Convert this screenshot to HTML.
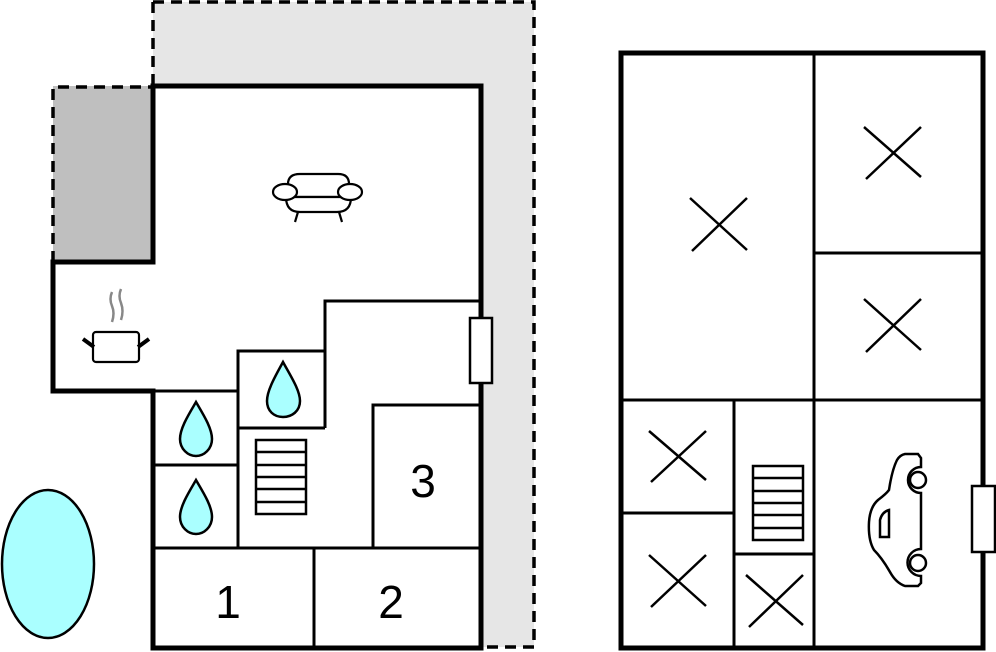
<!DOCTYPE html>
<html><head><meta charset="utf-8"><style>
html,body{margin:0;padding:0;background:#fff;}
svg{display:block;}
text{font-family:"Liberation Sans",sans-serif;}
</style></head><body>
<svg width="996" height="652" viewBox="0 0 996 652" xmlns="http://www.w3.org/2000/svg">
<path d="M153,2 L534,2 L534,647 L481,647 L481,86 L153,86 Z" fill="#e6e6e6"/>
<path d="M153,2 L534,2 L534,647 L481,647" fill="none" stroke="#000" stroke-width="3.5" stroke-dasharray="11,7"/>
<line x1="153" y1="2" x2="153" y2="86" stroke="#000" stroke-width="3.5" stroke-dasharray="11,7"/>
<rect x="53" y="86" width="100" height="176" fill="#bfbfbf"/>
<path d="M53,262 L53,87 L153,87" fill="none" stroke="#000" stroke-width="3.5" stroke-dasharray="11,7"/>
<path d="M153,86 L481,86 L481,648 L153,648 L153,391 L53,391 L53,262 L153,262 Z" fill="#fff"/>
<g stroke="#000" stroke-width="3" fill="none">
<path d="M481,301 L325,301 L325,351 L238,351 L238,548"/>
<line x1="238" y1="428" x2="325" y2="428"/>
<line x1="325" y1="351" x2="325" y2="428"/>
<line x1="153" y1="391" x2="238" y2="391"/>
<line x1="153" y1="465" x2="238" y2="465"/>
<line x1="153" y1="548" x2="481" y2="548"/>
<line x1="314" y1="548" x2="314" y2="648"/>
<path d="M373,548 L373,405 L481,405"/>
</g>
<path d="M153,86 L481,86 L481,648 L153,648 L153,391 L53,391 L53,262 L153,262 Z" fill="none" stroke="#000" stroke-width="5"/>
<rect x="470" y="318" width="22" height="65" fill="#fff" stroke="#000" stroke-width="2.5"/>
<rect x="256" y="440" width="50" height="74" fill="#fff" stroke="#000" stroke-width="2.5"/>
<g stroke="#000" stroke-width="2.5">
<line x1="256" y1="452" x2="306" y2="452"/><line x1="256" y1="465" x2="306" y2="465"/>
<line x1="256" y1="477" x2="306" y2="477"/><line x1="256" y1="489" x2="306" y2="489"/>
<line x1="256" y1="502" x2="306" y2="502"/>
</g>
<g fill="#aaffff" stroke="#000" stroke-width="2.5">
<path d="M283,362 C290,375 300,390 300,401 C300,411 292,417 283,417 C274,417 267,411 267,401 C267,390 276,375 283,362 Z"/>
<path d="M196,402 C203,414 212,428 212,439 C212,449 204,456 196,456 C188,456 180,449 180,439 C180,428 189,414 196,402 Z"/>
<path d="M196,480 C203,492 212,506 212,517 C212,527 204,534 196,534 C188,534 180,527 180,517 C180,506 189,492 196,480 Z"/>
</g>
<text x="228" y="618" font-size="46" text-anchor="middle">1</text>
<text x="391" y="618" font-size="46" text-anchor="middle">2</text>
<text x="423" y="497" font-size="46" text-anchor="middle">3</text>
<ellipse cx="48" cy="564" rx="46" ry="74" fill="#aaffff" stroke="#000" stroke-width="2.5"/>
<g fill="#fff" stroke="#000" stroke-width="2.2">
<path d="M288,197 L288,184 Q288,174 300,174 L338,174 Q349,174 349,184 L349,197 Z"/>
<path d="M286,197 Q286,212 300,212 L337,212 Q351,212 351,197 Z"/>
<ellipse cx="285" cy="192" rx="12" ry="8"/>
<ellipse cx="350" cy="192" rx="12" ry="8"/>
<line x1="298" y1="212" x2="295" y2="222"/>
<line x1="339" y1="212" x2="342" y2="222"/>
</g>
<rect x="93" y="332" width="46" height="30" rx="3" fill="#fff" stroke="#000" stroke-width="2.2"/>
<line x1="83" y1="339" x2="94" y2="347" stroke="#000" stroke-width="4"/>
<line x1="138" y1="347" x2="149" y2="339" stroke="#000" stroke-width="4"/>
<path d="M112,292 Q109,299 112,306 Q115,313 112,322" fill="none" stroke="#888" stroke-width="2.5"/>
<path d="M121,289 Q118,296 121,303 Q124,311 121,320" fill="none" stroke="#888" stroke-width="2.5"/>
<g stroke="#000" stroke-width="3" fill="none">
<line x1="814" y1="53" x2="814" y2="648"/>
<line x1="814" y1="253" x2="983" y2="253"/>
<line x1="621" y1="400" x2="983" y2="400"/>
<line x1="734" y1="400" x2="734" y2="648"/>
<line x1="621" y1="513" x2="734" y2="513"/>
<line x1="734" y1="554" x2="814" y2="554"/>
</g>
<rect x="621" y="53" width="362" height="595" fill="none" stroke="#000" stroke-width="5"/>
<rect x="972" y="486" width="23" height="66" fill="#fff" stroke="#000" stroke-width="2.5"/>
<g stroke="#000" stroke-width="2.5">
<line x1="690" y1="198" x2="747" y2="250"/><line x1="747" y1="198" x2="692" y2="251"/>
<line x1="864" y1="127" x2="921" y2="177"/><line x1="921" y1="127" x2="866" y2="179"/>
<line x1="864" y1="299" x2="921" y2="350"/><line x1="921" y1="299" x2="866" y2="352"/>
<line x1="649" y1="431" x2="706" y2="480"/><line x1="706" y1="431" x2="651" y2="482"/>
<line x1="649" y1="555" x2="706" y2="606"/><line x1="706" y1="555" x2="651" y2="607"/>
<line x1="746" y1="575" x2="803" y2="625"/><line x1="803" y1="575" x2="749" y2="627"/>
</g>
<rect x="753" y="466" width="50" height="74" fill="#fff" stroke="#000" stroke-width="2.5"/>
<g stroke="#000" stroke-width="2.5">
<line x1="753" y1="478" x2="803" y2="478"/><line x1="753" y1="491" x2="803" y2="491"/>
<line x1="753" y1="503" x2="803" y2="503"/><line x1="753" y1="515" x2="803" y2="515"/>
<line x1="753" y1="528" x2="803" y2="528"/>
</g>
<g fill="none" stroke="#000" stroke-width="2.5">
<path d="M905,454 L918,454 L921,458 L921,467 A13,13 0 0 0 921,493 L921,549 A13,13 0 0 0 921,576 L921,583 L918,586 L905,586 Q896,583 890,572 Q882,558 874,550 Q868,540 869,522 Q870,507 878,500 Q886,494 889,490 Q892,470 897,460 Q900,455 905,454 Z"/>
<circle cx="918" cy="480" r="8"/>
<circle cx="918" cy="563" r="8"/>
<path d="M880,537 L880,520 Q882,512 889,510 L889,537 Z"/>
</g>
</svg>
</body></html>
